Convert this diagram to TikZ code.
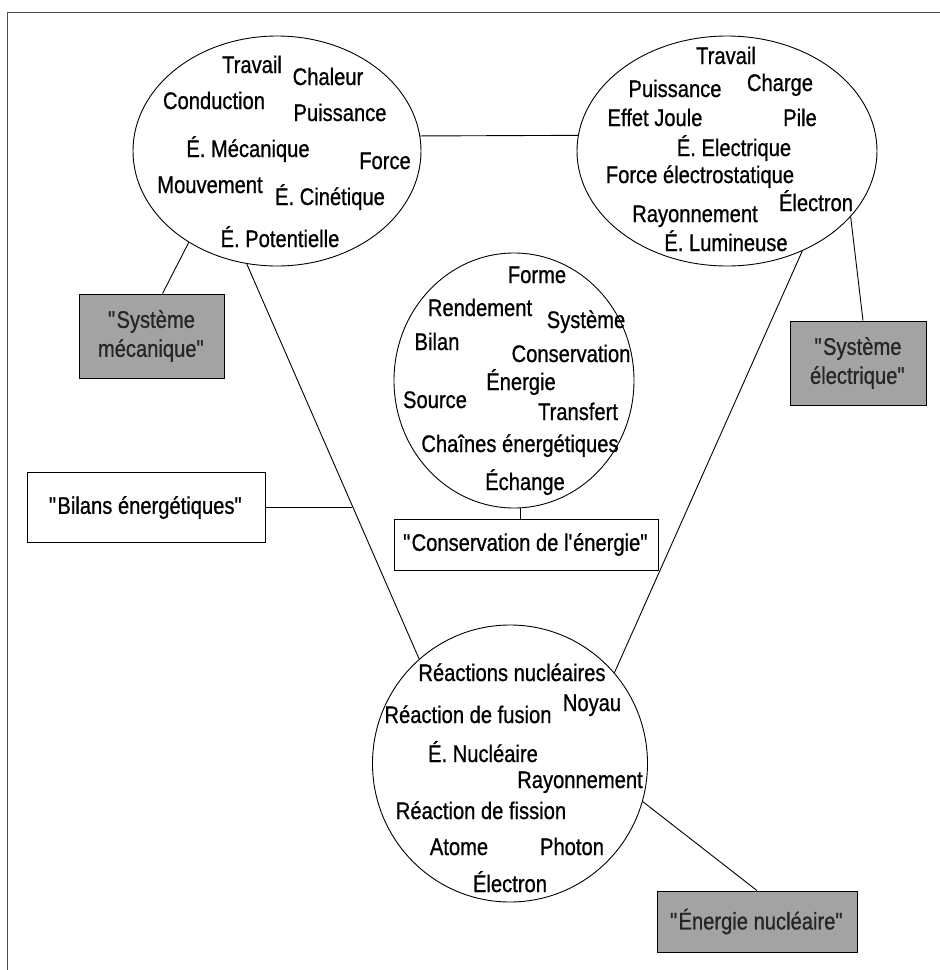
\documentclass[tikz,border=0pt]{standalone}
\usepackage{fontspec}
\setmainfont{Liberation Sans}[FakeStretch=0.84,FakeBold=0.8]
\usepackage{tikz}
\usetikzlibrary{shapes.geometric,positioning}

\newcommand{\guil}{\textquotedbl}

\begin{document}
\begin{tikzpicture}[
  x=1pt, y=-1pt,
  ell/.style={draw,ellipse,inner sep=0pt,line width=0.9pt},
  mot/.style={anchor=base,inner sep=0pt,font=\fontsize{24}{27}\selectfont},
  tag/.style={draw,line width=0.9pt,align=center,inner sep=0pt,
              font=\fontsize{24}{29}\selectfont},
  grise/.style={tag,fill=black!36,text=black!85},
  lien/.style={line width=0.9pt}
]
\useasboundingbox (0,0) rectangle (940,970);
% --- cadre ---
\draw[lien,black!70] (940,12) -- (7,12) -- (7,970);

% --- 4 ellipses ---
\node[ell,minimum width=288pt,minimum height=230pt] (mec) at (277,151) {};
\node[ell,minimum width=300pt,minimum height=230pt] (ele) at (727,151) {};
\node[ell,minimum width=240pt,minimum height=255pt] (nrj) at (514,380.5) {};
\node[ell,minimum width=275pt,minimum height=277pt] (nuc) at (510,763.5) {};

% --- mots : systeme mecanique ---
\node[mot] (mec-trav)  at (252,73)  {Travail};
\node[mot] (mec-chal)  at (328,85)  {Chaleur};
\node[mot] (mec-cond)  at (214,109) {Conduction};
\node[mot] (mec-puis)  at (340,121) {Puissance};
\node[mot] (mec-emec)  at (248,157) {É. Mécanique};
\node[mot] (mec-force) at (385,169) {Force};
\node[mot] (mec-mouv)  at (210,193) {Mouvement};
\node[mot] (mec-ecin)  at (330,205) {É. Cinétique};
\node[mot] (mec-epot)  at (280,247) {É. Potentielle};

% --- mots : systeme electrique ---
\node[mot] (ele-trav)  at (726,64)  {Travail};
\node[mot] (ele-charg) at (780,91)  {Charge};
\node[mot] (ele-puis)  at (675,97)  {Puissance};
\node[mot] (ele-joule) at (655,126) {Effet Joule};
\node[mot] (ele-pile)  at (800,126) {Pile};
\node[mot] (ele-eel)   at (734,156) {É. Electrique};
\node[mot] (ele-fel)   at (700,183) {Force électrostatique};
\node[mot] (ele-elec)  at (816,211) {Électron};
\node[mot] (ele-ray)   at (695,222) {Rayonnement};
\node[mot] (ele-elum)  at (726,251) {É. Lumineuse};

% --- mots : energie ---
\node[mot] (nrj-forme) at (537,283) {Forme};
\node[mot] (nrj-rend)  at (480,316) {Rendement};
\node[mot] (nrj-syst)  at (586,328) {Système};
\node[mot] (nrj-bilan) at (437,350) {Bilan};
\node[mot] (nrj-cons)  at (571,362) {Conservation};
\node[mot] (nrj-nrj)   at (521,390) {Énergie};
\node[mot] (nrj-src)   at (435,408) {Source};
\node[mot] (nrj-trans) at (578,420) {Transfert};
\node[mot] (nrj-chain) at (520,452) {Chaînes énergétiques};
\node[mot] (nrj-ech)   at (525,490) {Échange};

% --- mots : energie nucleaire ---
\node[mot] (nuc-react) at (512,681) {Réactions nucléaires};
\node[mot] (nuc-noyau) at (592,711) {Noyau};
\node[mot] (nuc-fus)   at (468,723) {Réaction de fusion};
\node[mot] (nuc-enuc)  at (483,762) {É. Nucléaire};
\node[mot] (nuc-ray)   at (580,788) {Rayonnement};
\node[mot] (nuc-fis)   at (481,819) {Réaction de fission};
\node[mot] (nuc-atome) at (459,855) {Atome};
\node[mot] (nuc-phot)  at (572,855) {Photon};
\node[mot] (nuc-elec)  at (510,892) {Électron};

% --- cadres de titre ---
\node[grise,minimum width=145pt,minimum height=84pt] (mecbox)  at (151.5,336)
  {\guil Système\\mécanique\guil};
\node[grise,minimum width=136pt,minimum height=84pt] (elebox)  at (858,363)
  {\guil Système\\électrique\guil};
\node[tag,minimum width=238pt,minimum height=70pt]   (bilan)   at (146,507.5)
  {\guil Bilans énergétiques\guil};
\node[tag,minimum width=264pt,minimum height=51pt]   (consbox) at (526,544.5)
  {\guil Conservation de l\textquotesingle énergie\guil};
\node[grise,minimum width=200pt,minimum height=61pt] (nucbox)  at (757,921.5)
  {\guil Énergie nucléaire\guil};

% --- liens ---
\draw[lien] (mec.6) -- (ele.174);
\draw[lien] (mec.255) -- coordinate[pos=0.61] (pied) (nuc.131);
\draw[lien] (ele.307) -- (nuc.41);
\draw[lien] (mec.226) -- ([xshift=11pt]mecbox.north);
\draw[lien] (ele.332) -- ([xshift=5pt]elebox.north);
\draw[lien] (nuc.344) -- (nucbox.north);
\draw[lien] (bilan.east) -- (bilan.east -| pied);
\draw[lien] (nrj.273) -- (nrj.273 |- consbox.north);
\end{tikzpicture}
\end{document}
